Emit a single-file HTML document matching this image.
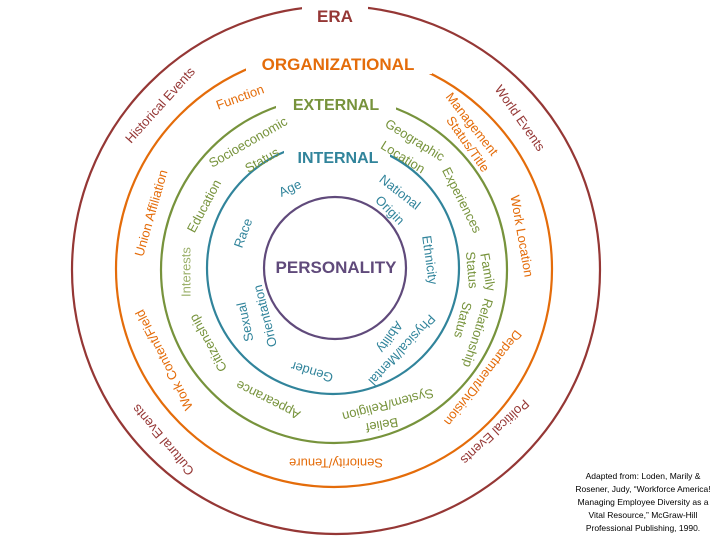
<!DOCTYPE html>
<html><head><meta charset="utf-8"><style>
html,body{margin:0;padding:0;background:#fff;width:720px;height:540px;overflow:hidden}
svg{display:block}
text{font-family:"Liberation Sans",sans-serif}
</style></head><body>
<svg id="s" width="720" height="540" viewBox="0 0 720 540" xmlns="http://www.w3.org/2000/svg">
<g fill="none" stroke-width="2.2">
<circle cx="336" cy="270" r="264" stroke="#953735"/>
<circle cx="334" cy="269" r="218" stroke="#e46c0a"/>
<circle cx="334" cy="270" r="173" stroke="#77933c"/>
<circle cx="333" cy="268" r="126" stroke="#31849b"/>
<circle cx="335" cy="268" r="71" stroke="#604a7b"/>
</g>
<rect x="302" y="2" width="66" height="26" fill="#fff"/>
<rect x="246" y="44" width="186" height="30" fill="#fff"/>
<rect x="276" y="90" width="120" height="26" fill="#fff"/>
<rect x="284" y="138" width="106" height="30" fill="#fff"/>
<g font-weight="bold" text-anchor="middle">
<text x="335" y="22" font-size="17" fill="#953735">ERA</text>
<text x="338" y="70" font-size="17" fill="#e46c0a">ORGANIZATIONAL</text>
<text x="336" y="110" font-size="16" fill="#77933c">EXTERNAL</text>
<text x="338" y="163" font-size="16" fill="#31849b">INTERNAL</text>
<text x="336" y="273" font-size="17" fill="#604a7b">PERSONALITY</text>
</g>
<g id="labels" font-size="13" text-anchor="middle" dominant-baseline="central"></g>
<g font-size="8.5" text-anchor="middle" fill="#000">
<text x="643" y="479">Adapted from: Loden, Marily &amp;</text>
<text x="643" y="492">Rosener, Judy, “Workforce America!</text>
<text x="643" y="505">Managing Employee Diversity as a</text>
<text x="643" y="518">Vital Resource,” McGraw-Hill</text>
<text x="643" y="531">Professional Publishing, 1990.</text>
</g>
</svg>
<script>
var NS="http://www.w3.org/2000/svg";
var E="#953735",O="#e46c0a",G="#77933c",B="#31849b";
var L=[
["Historical Events",160,105,-48,E],["World Events",520,118,55,E],["Political Events",495,432,137,E],["Cultural Events",163,440,230,E],
["Function",240,97,-20,O],["Management",472,124,52,O],["Status/Title",468,144,55,O],["Work Location",522,236,80,O],
["Department/Division",483,378,128,O],["Seniority/Tenure",336,463,180,O],["Work Content/Field",164,360,243,O],["Union Affiliation",151,213,-74,O],
["Socioeconomic",248,142,-30,G],["Status",262,160,-30,G],["Geographic",415,140,32,G],["Location",403,157,32,G],["Experiences",462,200,63,G],
["Family",488,272,80,G],["Status",472,270,85,G],["Relationship",478,333,108,G],["Status",463,320,105,G],
["Belief",382,425,170,G],["System/Religion",388,405,165,G],["Appearance",268,400,207,G],["Citizenship",208,343,241,G],
["Interests",186,272,-90,"#9bb06a"],["Education",204,206,-62,G],
["Age",290,188,-25,B],["National",400,192,38,B],["Origin",390,210,45,B],["Ethnicity",430,260,82,B],
["Physical/Mental",402,350,133,B],["Ability",390,337,125,B],["Gender",312,372,197,B],["Sexual",245,322,258,B],["Orientation",265,316,256,B],["Race",243,233,-70,B]
];
var g=document.getElementById("labels");
L.forEach(function(l){
 var t=document.createElementNS(NS,"text");
 t.setAttribute("x",l[1]);t.setAttribute("y",l[2]);t.setAttribute("fill",l[4]);
 t.setAttribute("transform","rotate("+l[3]+" "+l[1]+" "+l[2]+")");
 t.textContent=l[0];g.appendChild(t);
});
</script>
</body></html>
